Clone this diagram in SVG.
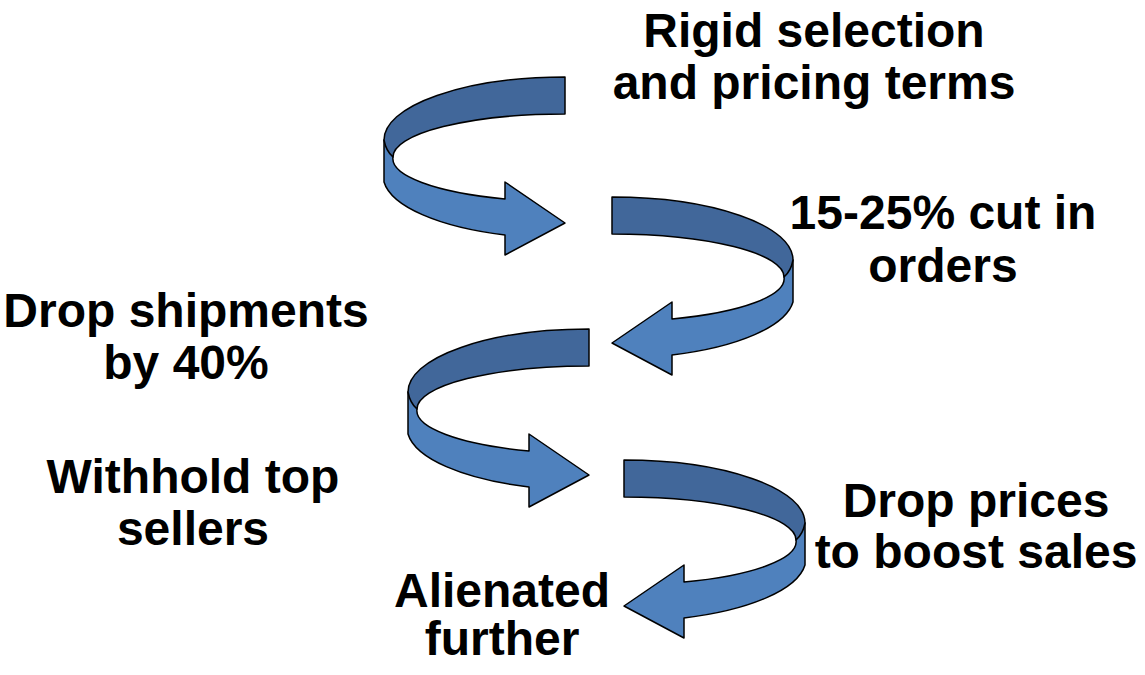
<svg xmlns="http://www.w3.org/2000/svg" xmlns:xlink="http://www.w3.org/1999/xlink" width="1145" height="675" viewBox="0 0 1145 675">
<style>
.lbl{font-family:"Liberation Sans",Arial,sans-serif;font-weight:bold;font-size:48px;fill:#000;text-anchor:middle}
.front{fill:#4F81BD;stroke:#000;stroke-width:1.5;stroke-linejoin:round}
.back{fill:#41679A;stroke:#000;stroke-width:1.5;stroke-linejoin:round}
</style>
<defs>
<g id="curl">
<path class="front" d="M384,140 L384,182 A181,63 0 0 0 505,235 L505,255 L565,223 L505,182 L505,199 A172,43 0 0 1 393,157 Z"/>
<path class="back" d="M565,77 A181,63 0 0 0 384,140 Q386,151 393,157 A172,43 0 0 1 565,114 Z"/>
</g>
</defs>
<rect width="1145" height="675" fill="#fff"/>
<g id="connectors">
<use xlink:href="#curl"/>
<use xlink:href="#curl" transform="translate(1177,120) scale(-1,1)"/>
<use xlink:href="#curl" transform="translate(24,252)"/>
<use xlink:href="#curl" transform="translate(1189,383) scale(-1,1)"/>
</g>
<g id="n1"><text class="lbl" x="814" y="47">Rigid selection</text><text class="lbl" x="814" y="99">and pricing terms</text></g>
<g id="n2"><text class="lbl" x="943" y="229">15-25% cut in</text><text class="lbl" x="943" y="282">orders</text></g>
<g id="n3"><text class="lbl" x="186" y="327">Drop shipments</text><text class="lbl" x="186" y="379">by 40%</text></g>
<g id="n4"><text class="lbl" x="193" y="493">Withhold top</text><text class="lbl" x="193" y="545">sellers</text></g>
<g id="n5"><text class="lbl" x="976" y="517">Drop prices</text><text class="lbl" x="976" y="568">to boost sales</text></g>
<g id="n6"><text class="lbl" x="502" y="607">Alienated</text><text class="lbl" x="502" y="655">further</text></g>
</svg>
